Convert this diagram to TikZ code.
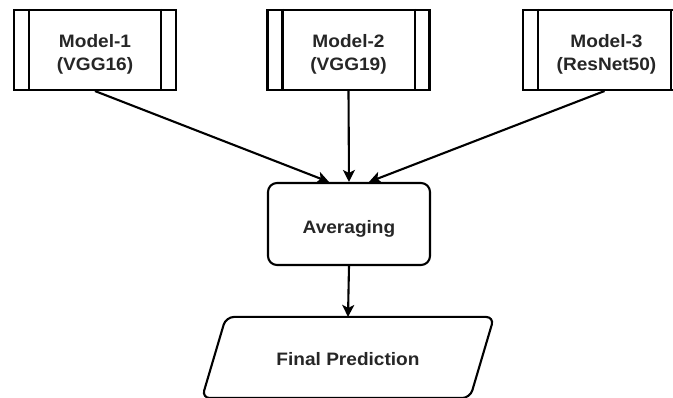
\documentclass[tikz,border=0pt]{standalone}
\usepackage{fontspec}
\setmainfont{Liberation Sans}[FakeStretch=1.06]
\usetikzlibrary{arrows.meta}
\begin{document}
\begin{tikzpicture}[x=1pt,y=-1pt,
  line width=2.1pt,
  every node/.style={font=\fontsize{18}{23}\selectfont\bfseries, text=black!85, align=center},
  procbox/.style={draw, rectangle, minimum width=162pt, minimum height=80pt, inner sep=0pt},
  avgbox/.style={draw, rectangle, rounded corners=9pt, minimum width=162pt, minimum height=82pt, inner sep=0pt},
  caption/.style={inner sep=0pt},
  flow/.style={-{Stealth[length=12pt,width=12pt,inset=3pt]}, line width=2.1pt}]
  \useasboundingbox (0,0) rectangle (673,398);
  \begin{scope}
    \clip (0,0) rectangle (673,398);
    % three model boxes with side bars
    \node[procbox] (m1) at (95,50) {};
    \node[procbox] (m2) at (348.5,50) {};
    \node[procbox, minimum width=163pt] (m3) at (604.5,50) {};
    \foreach \n in {m1,m2,m3}{
      \draw ([xshift=16pt]\n.north west) -- ([xshift=16pt]\n.south west);
      \draw ([xshift=-16pt]\n.north east) -- ([xshift=-16pt]\n.south east);
    }
    \node[caption] (t1) at ([yshift=-4pt]m1.center) {Model-1\\(VGG16)};
    \node[caption] (t2) at ([yshift=-4pt]m2.center) {Model-2\\(VGG19)};
    \node[caption] (t3) at ([xshift=2pt,yshift=-4pt]m3.center) {Model-3\\(ResNet50)};
    % combiner
    \node[avgbox] (avg) at (349,224) {};
    \node[caption] (tavg) at ([yshift=-5pt]avg.center) {Averaging};
    % output
    \node[minimum width=266pt, minimum height=79pt, inner sep=0pt] (fp) at (348,357.5) {};
    \draw[rounded corners=8pt] ([xshift=12pt]fp.north west) -- ([xshift=12pt]fp.north east)
      -- ([xshift=-12pt]fp.south east) -- ([xshift=-12pt]fp.south west) -- cycle;
    \node[caption] (tfp) at ([yshift=-2pt]fp.center) {Final Prediction};
    % connectors
    \draw[flow] (m1.south) -- ([xshift=-20pt]avg.north);
    \draw[flow] (m2.south) -- (avg.north);
    \draw[flow] (m3.south) -- ([xshift=20pt]avg.north);
    \draw[flow] (avg.south) -- (fp.north);
  \end{scope}
\end{tikzpicture}
\end{document}
